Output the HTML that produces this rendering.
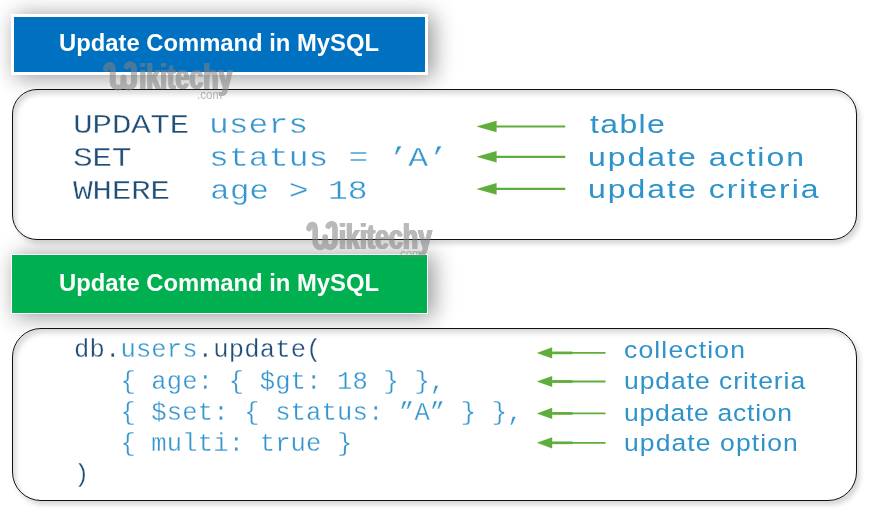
<!DOCTYPE html>
<html>
<head>
<meta charset="utf-8">
<title>Update Command in MySQL</title>
<style>
  html, body { margin: 0; padding: 0; }
  body {
    width: 870px; height: 512px; overflow: hidden; position: relative;
    background: #ffffff;
    font-family: "Liberation Sans", sans-serif;
  }
  .abs { position: absolute; white-space: pre; line-height: 1; transform-origin: 0 0; will-change: transform; }

  /* ---------- banners ---------- */
  .banner {
    position: absolute; box-sizing: border-box;
    color: #fff; font-weight: bold; font-size: 23.8px;
    box-shadow: 5px 2px 22px 1px rgba(0,0,0,0.40);
  }
  .banner span { position: absolute; left: 49px; white-space: pre; line-height: 1; transform-origin: 0 0; will-change: transform; }
  #b1 { left: 11px; top: 14px; width: 417px; height: 61px; background: #0070c0; border: 3px solid #fff; }
  #b2 { left: 11px; top: 254px; width: 417px; height: 60px; background: #00b050; border: 1px solid #fff; }

  /* ---------- rounded boxes ---------- */
  .box {
    position: absolute; box-sizing: border-box; background: #fff;
    border: 1.3px solid #111;
    box-shadow: 3px 4px 5px rgba(0,0,0,0.16), inset 3px 4px 5px rgba(0,0,0,0.15);
  }
  #box1 { left: 12px; top: 88.5px; width: 845px; height: 151px; border-radius: 25px; }
  #box2 { left: 12px; top: 327.5px; width: 845px; height: 173.5px; border-radius: 29px; }

  /* ---------- code text ---------- */
  .mono { font-family: "Liberation Mono", monospace; }
  .nv { color: #1f4e79; }
  .lb { color: #3596cf; }
  .lab { color: #2e93c9; font-family: "Liberation Sans", sans-serif; }

  .c1 { font-size: 27.5px; letter-spacing: -0.4px; transform: scaleX(1.2); -webkit-text-stroke: 0.35px #fff; }
  .c2 { font-size: 25.5px; letter-spacing: 0.17px; -webkit-text-stroke: 0.3px #fff; }
  .l1 { font-size: 26px; letter-spacing: 1.5px; transform: scaleX(1.23); }
  .l2 { font-size: 24.5px; letter-spacing: 0.79px; transform: scaleX(1.081); }

  svg { position: absolute; left: 0; top: 0; will-change: transform; }
</style>
</head>
<body>

<!-- banners -->
<div class="banner" id="b1"><span style="top:14.3px; left:45.1px">Update Command in MySQL</span></div>
<div class="banner" id="b2"><span style="top:16.1px; left:47.1px">Update Command in MySQL</span></div>

<!-- box 1 -->
<div class="box" id="box1"></div>
<div class="abs mono c1 nv" style="left:73.3px; top:111.6px;">UPDATE</div>
<div class="abs mono c1 lb" style="left:208.6px; top:111.6px; letter-spacing:0px">users</div>
<div class="abs mono c1 nv" style="left:73.3px; top:144.6px;">SET</div>
<div class="abs mono c1 lb" style="left:208.8px; top:144.6px; letter-spacing:0.1px">status = &#8217;A&#8217;</div>
<div class="abs mono c1 nv" style="left:73.3px; top:177.5px;">WHERE</div>
<div class="abs mono c1 lb" style="left:209.8px; top:177.5px; letter-spacing:-0.1px">age &gt; 18</div>

<div class="abs lab l1" style="left:589.8px; top:111.1px; letter-spacing:1.1px">table</div>
<div class="abs lab l1" style="left:588.3px; top:144.3px; letter-spacing:1.62px">update action</div>
<div class="abs lab l1" style="left:588.3px; top:176.4px; letter-spacing:1.62px">update criteria</div>

<!-- box 2 -->
<div class="box" id="box2"></div>

<div class="abs mono c2" style="left:74.3px; top:338.2px;"><span class="nv">db.</span><span class="lb">users</span><span class="nv">.update(</span></div>
<div class="abs mono c2 lb" style="left:74.3px; top:369.6px;">   { age: { $gt: 18 } },</div>
<div class="abs mono c2 lb" style="left:74.3px; top:400.9px;">   { $set: { status: &#8221;A&#8221; } },</div>
<div class="abs mono c2 lb" style="left:74.3px; top:432.2px;">   { multi: true }</div>
<div class="abs mono c2 nv" style="left:73.6px; top:462.7px;">)</div>

<div class="abs lab l2" style="left:623.7px; top:337.7px; letter-spacing:1.08px">collection</div>
<div class="abs lab l2" style="left:623.8px; top:368.5px; letter-spacing:0.88px">update criteria</div>
<div class="abs lab l2" style="left:623.8px; top:400.5px; letter-spacing:0.69px">update action</div>
<div class="abs lab l2" style="left:623.8px; top:430.9px; letter-spacing:1.02px">update option</div>

<!-- arrows -->
<svg width="870" height="512" viewBox="0 0 870 512">
  <g fill="#5fae3c" stroke="none">
    <!-- box 1 -->
    <path d="M476.4 126.5 L496.6 120.7 L496.6 125.5 L565.2 125.5 L565.2 127.5 L496.6 127.5 L496.6 132.3 Z"/>
    <path d="M476.4 156.8 L496.6 151.0 L496.6 155.8 L565.2 155.8 L565.2 157.9 L496.6 157.9 L496.6 162.6 Z"/>
    <path d="M476.4 188.9 L496.6 183.1 L496.6 187.8 L565.2 187.8 L565.2 190.0 L496.6 190.0 L496.6 194.7 Z"/>
    <!-- box 2 -->
    <path d="M536.8 352.9 L552.2 347.3 L552.2 351.9 L605.5 351.9 L605.5 353.8 L552.2 353.8 L552.2 358.5 Z"/>
    <rect x="552.2" y="351.55" width="20.3" height="2.7"/>
    <path d="M536.8 381.5 L552.2 375.9 L552.2 380.6 L605.5 380.6 L605.5 382.4 L552.2 382.4 L552.2 387.1 Z"/>
    <rect x="552.2" y="380.15" width="20.3" height="2.7"/>
    <path d="M536.8 413.4 L552.2 407.8 L552.2 412.4 L605.5 412.4 L605.5 414.3 L552.2 414.3 L552.2 419.0 Z"/>
    <rect x="552.2" y="412.05" width="20.3" height="2.7"/>
    <path d="M536.8 442.8 L552.2 437.2 L552.2 441.9 L605.5 441.9 L605.5 443.8 L552.2 443.8 L552.2 448.4 Z"/>
    <rect x="552.2" y="441.45" width="20.3" height="2.7"/>
  </g>
</svg>

<!-- watermarks -->
<svg width="870" height="512" viewBox="0 0 870 512" style="pointer-events:none">
  <defs>
    <path id="wmW" d="M2 7 C2.8 2.6 8.2 0.6 8.2 8 L8.2 20.5 C8.2 27.6 18.2 27.6 18.2 20.5 L18.2 15.5 M18.2 20.5 C18.2 27.6 28 27.6 28 20.5 L28 7 C28 1 22.2 1.6 21.3 4.6"
          fill="none" stroke="#828282" stroke-width="5.7" stroke-linecap="round" stroke-linejoin="round"/>
    <g id="wmT" fill="#828282">
      <g font-family="Liberation Sans, sans-serif" font-weight="bold" font-size="35">
        <text x="32.9" y="27.3" textLength="93" lengthAdjust="spacingAndGlyphs">ikitechy</text>
        <text x="33.5" y="27.3" textLength="93" lengthAdjust="spacingAndGlyphs">ikitechy</text>
        <text x="34.1" y="27.3" textLength="93" lengthAdjust="spacingAndGlyphs">ikitechy</text>
        <text x="34.7" y="27.3" textLength="93" lengthAdjust="spacingAndGlyphs">ikitechy</text>
      </g>
      <text x="91.5" y="36.8" textLength="25" lengthAdjust="spacingAndGlyphs"
            font-family="Liberation Sans, sans-serif" font-size="12">.com</text>
    </g>
  </defs>
  <g opacity="0.56">
    <use href="#wmW" transform="translate(104.0 61.8) scale(1.07 1)"/>
    <use href="#wmT" transform="translate(105.6 61.8)"/>
  </g>
  <g opacity="0.56">
    <use href="#wmW" transform="translate(307.0 221.5)"/>
    <use href="#wmT" transform="translate(305.2 221.5)"/>
  </g>
</svg>

</body>
</html>
